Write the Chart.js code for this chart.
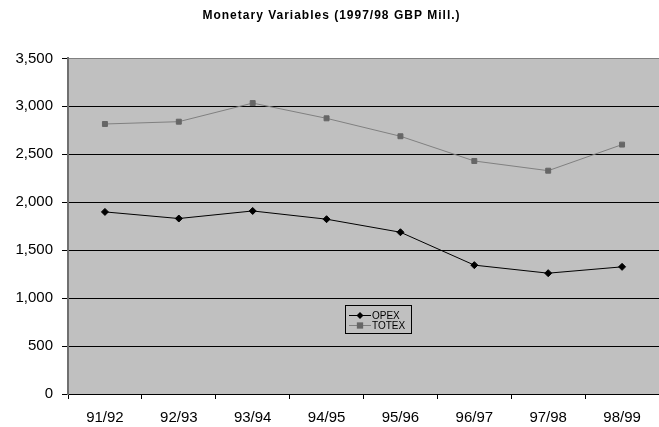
<!DOCTYPE html>
<html>
<head>
<meta charset="utf-8">
<script src="https://cdn.jsdelivr.net/npm/chart.js@4/dist/chart.umd.min.js"></script>
<style>
html,body{margin:0;padding:0;background:#fff;overflow:hidden;}
#wrap{position:relative;width:664px;height:427px;}
</style>
</head>
<body>
<div id="wrap"><canvas id="c"></canvas></div>
<script>
const categories = ['91/92','92/93','93/94','94/95','95/96','96/97','97/98','98/99'];
const opex  = [1899, 1830, 1909, 1823, 1687, 1344, 1260, 1326];
const totex = [2816, 2840, 3034, 2875, 2688, 2430, 2329, 2601];
const titleText = 'Monetary Variables (1997/98 GBP Mill.)';
const FONT = "'Liberation Sans', Arial, sans-serif";

const plotBg = {
  id: 'plotBg',
  beforeDraw(chart) {
    const {ctx, chartArea: a} = chart;
    ctx.save();
    ctx.fillStyle = '#c0c0c0';
    ctx.fillRect(a.left, a.top, a.right - a.left, a.bottom - a.top);
    ctx.restore();
    const tb = chart.titleBlock;
    if (tb && !tb._ls) {
      const d = tb.draw.bind(tb);
      tb.draw = function () { chart.ctx.save(); chart.ctx.letterSpacing = '1px'; d(); chart.ctx.restore(); };
      tb._ls = true;
    }
  }
};

const boxLegend = {
  id: 'boxLegend',
  afterDraw(chart) {
    const ctx = chart.ctx;
    const x0 = 345.5, y0 = 305.5, w = 66, h = 28;
    ctx.save();
    ctx.strokeStyle = '#000';
    ctx.lineWidth = 1;
    ctx.strokeRect(x0, y0, w, h);
    const rows = [
      {ds: chart.data.datasets[0], y: 315.5},
      {ds: chart.data.datasets[1], y: 325.5}
    ];
    ctx.font = '10px ' + FONT;
    ctx.textBaseline = 'middle';
    rows.forEach(r => {
      ctx.strokeStyle = r.ds.borderColor;
      ctx.lineWidth = 1;
      ctx.beginPath();
      ctx.moveTo(349, r.y);
      ctx.lineTo(371, r.y);
      ctx.stroke();
      ctx.fillStyle = r.ds.pointBackgroundColor;
      ctx.beginPath();
      if (r.ds.pointStyle === 'rectRot') {
        const s = r.ds.pointRadius;
        ctx.moveTo(360, r.y - s); ctx.lineTo(360 + s, r.y); ctx.lineTo(360, r.y + s); ctx.lineTo(360 - s, r.y); ctx.closePath();
      } else {
        const s = r.ds.pointRadius * 0.9;
        ctx.rect(360 - s, r.y - s, 2 * s, 2 * s);
      }
      ctx.fill();
      ctx.fillStyle = '#000';
      ctx.fillText(r.ds.label, 372, r.y + 0.5);
    });
    ctx.restore();
  }
};

new Chart(document.getElementById('c'), {
  type: 'line',
  data: {
    labels: categories,
    datasets: [
      {
        label: 'OPEX', data: opex,
        borderColor: '#000000', borderWidth: 1,
        pointStyle: 'rectRot', pointRadius: 3.5,
        pointBackgroundColor: '#000000', pointBorderColor: '#000000', pointBorderWidth: 1,
        tension: 0, fill: false
      },
      {
        label: 'TOTEX', data: totex,
        borderColor: '#808080', borderWidth: 1,
        pointStyle: 'rect', pointRadius: 3.5,
        pointBackgroundColor: '#666666', pointBorderColor: '#666666', pointBorderWidth: 1,
        tension: 0, fill: false
      }
    ]
  },
  options: {
    responsive: true,
    maintainAspectRatio: false,
    animation: false,
    devicePixelRatio: 1,
    layout: {padding: {left: 0, right: 1, top: 0, bottom: 0}},
    plugins: {
      legend: {display: false},
      tooltip: {enabled: false},
      title: {
        display: true, text: titleText, color: '#000',
        font: {family: FONT, size: 12, weight: 'bold'},
        padding: {top: 8, bottom: 36}
      }
    },
    scales: {
      x: {
        offset: true,
        grid: {offset: true, display: true, drawOnChartArea: false, color: '#000', tickLength: 5, tickColor: '#000'},
        border: {display: true, color: '#000', width: 1},
        ticks: {color: '#000', font: {family: FONT, size: 15}, padding: 10, maxRotation: 0, autoSkip: false},
        afterFit(s) { s.height = 33; }
      },
      y: {
        min: 0, max: 3500,
        ticks: {
          stepSize: 500, color: '#000', padding: 9,
          font: {family: FONT, size: 15},
          callback: v => v.toLocaleString('en-US')
        },
        grid: {
          color: ctx => (ctx.tick && ctx.tick.value === 3500) ? '#808080' : '#000',
          tickColor: '#000', tickLength: 6, lineWidth: 1
        },
        border: {display: true, color: '#707070', width: 2},
        afterFit(s) { s.width = 68; }
      }
    }
  },
  plugins: [plotBg, boxLegend]
});
</script>
</body>
</html>
